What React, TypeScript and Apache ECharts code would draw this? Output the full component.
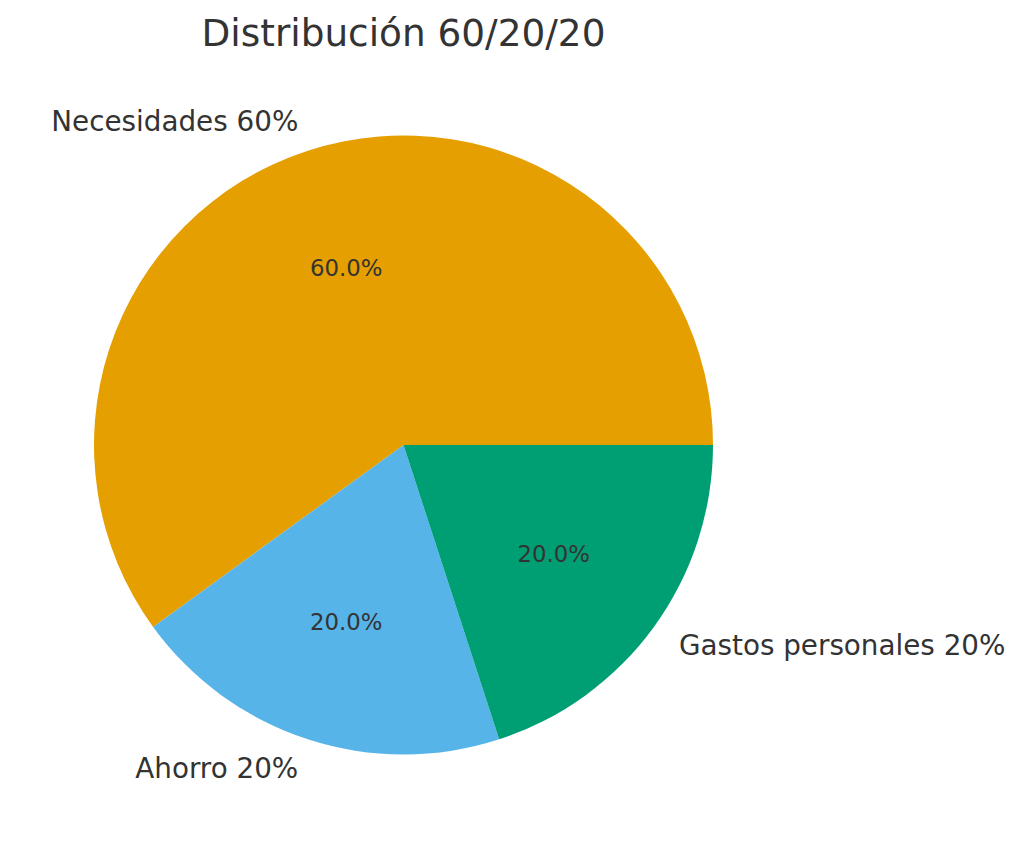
import React, { useEffect, useRef } from "react";
import * as echarts from "echarts";

const titleText = "Distribución 60/20/20";
const categories = ["Necesidades", "Ahorro", "Gastos personales"];
const values = [60, 20, 20];
const colors = ["#E69F00", "#56B4E9", "#009E73"];

const CX = 403.5;
const CY = 445;
const R = 309.5;
const FONT = "DejaVu Sans";
const TEXT = "#333333";

export default function App() {
  const ref = useRef<HTMLDivElement>(null);

  useEffect(() => {
    if (!ref.current) return;
    const chart = echarts.init(ref.current, null, { renderer: "svg" });
    const total = values.reduce((a, b) => a + b, 0);

    const slices = categories.map((name, i) => ({
      name,
      value: values[i],
      itemStyle: { color: colors[i] },
    }));

    chart.setOption({
      animation: false,
      backgroundColor: "#ffffff",
      title: {
        text: titleText,
        left: CX,
        top: 14,
        padding: 0,
        textAlign: "center",
        textStyle: { fontFamily: FONT, fontSize: 37.4, fontWeight: "normal", color: TEXT },
      },
      series: [
        {
          type: "pie",
          center: [CX, CY],
          radius: [0, R],
          startAngle: 0,
          clockwise: false,
          avoidLabelOverlap: false,
          data: slices,
          label: {
            show: true,
            position: "outside",
            alignTo: "none",
            distanceToLabelLine: 0,
            fontFamily: FONT,
            fontSize: 27.8,
            color: TEXT,
            formatter: (p: any) => `${p.name} ${Math.round(p.value)}%`,
          },
          labelLine: { show: false, length: R * 0.1, length2: 0 },
          emphasis: { disabled: true },
        },
        {
          // invisible ring that only carries the percentage labels (~0.6 R)
          type: "pie",
          center: [CX, CY],
          radius: [R * 0.5 - 3, R * 0.7 - 3],
          startAngle: 0,
          clockwise: false,
          avoidLabelOverlap: false,
          silent: true,
          data: slices.map((s) => ({ ...s, itemStyle: { color: "rgba(0,0,0,0)" } })),
          label: {
            show: true,
            position: "inside",
            fontFamily: FONT,
            fontSize: 22.8,
            color: TEXT,
            formatter: (p: any) => `${((p.value / total) * 100).toFixed(1)}%`,
          },
          labelLine: { show: false },
          emphasis: { disabled: true },
        },
      ],
    });
    return () => chart.dispose();
  }, []);

  return (
    <div
      ref={ref}
      style={{ position: "absolute", left: 0, top: 0, width: 1024, height: 849 }}
    />
  );
}
